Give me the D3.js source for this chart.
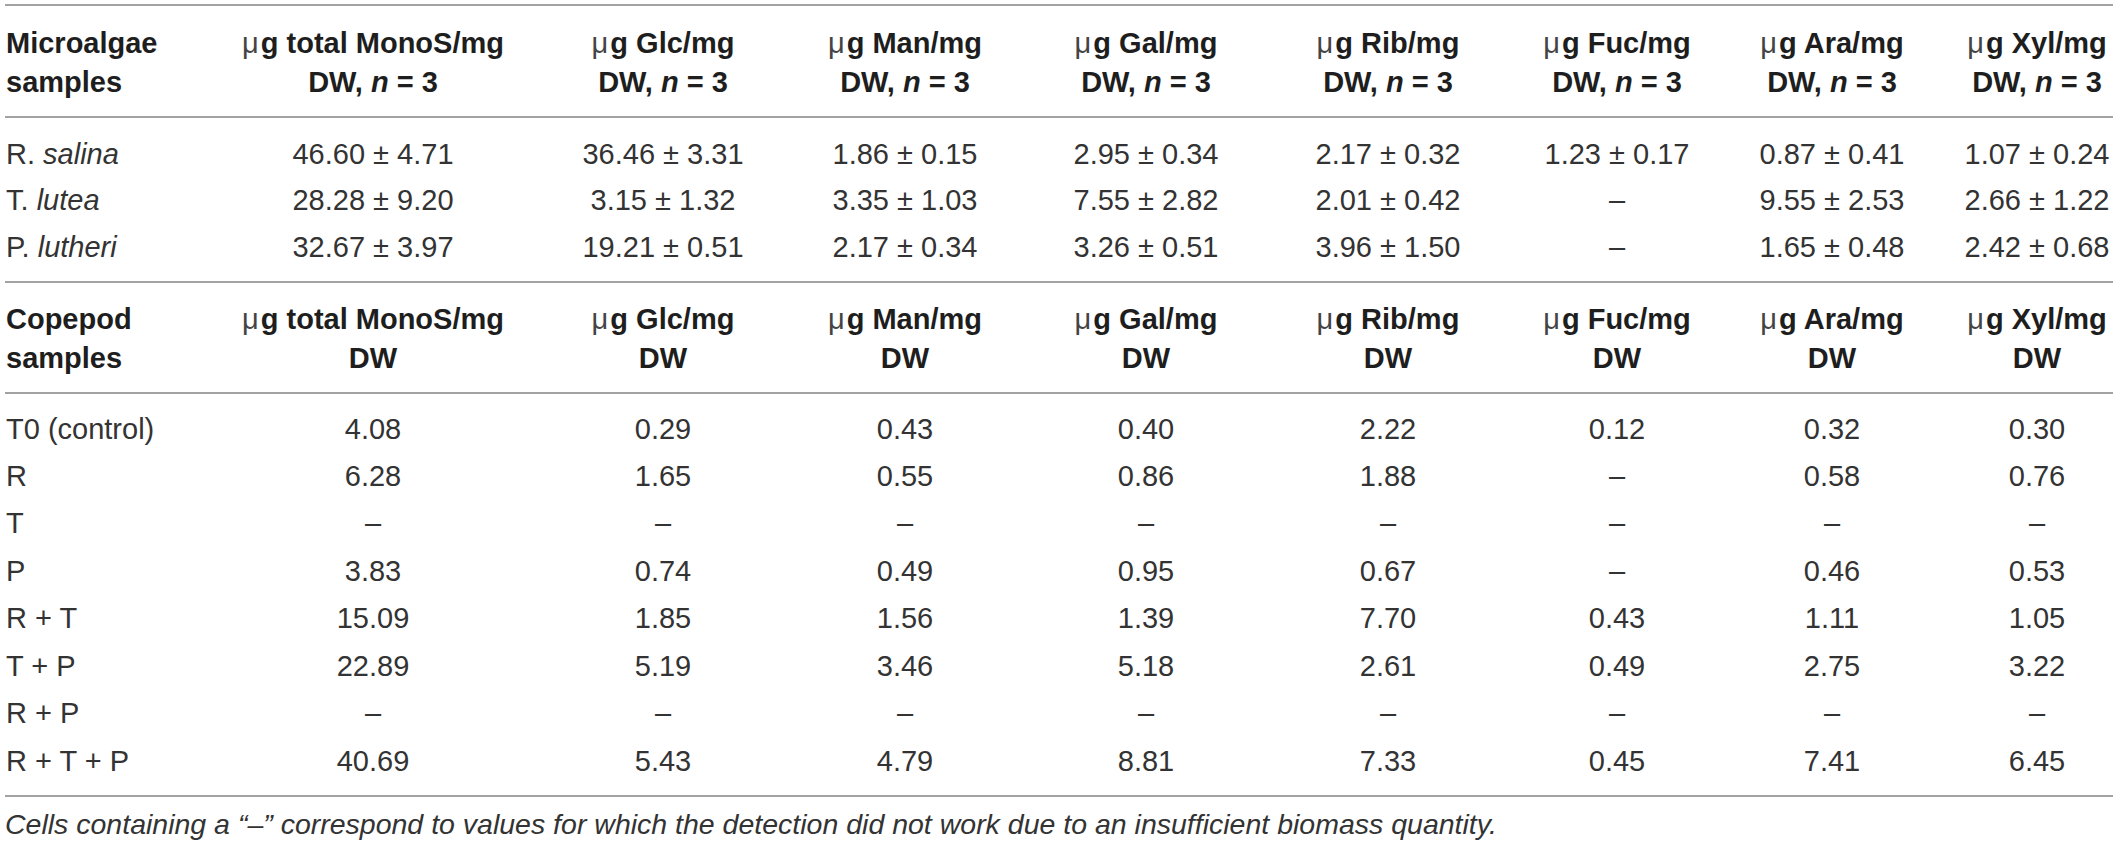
<!DOCTYPE html>
<html>
<head>
<meta charset="utf-8">
<script src="https://cdn.jsdelivr.net/npm/d3@7"></script>
<style>
  body { margin: 0; background: #fff; }
  svg text { font-family: "Liberation Sans", Arial, Helvetica, sans-serif; }
</style>
</head>
<body>
<script>
// Table data
const sugars = ["total MonoS", "Glc", "Man", "Gal", "Rib", "Fuc", "Ara", "Xyl"];

const algaeGenus = ["R.", "T.", "P."];
const algaeSpecies = ["salina", "lutea", "lutheri"];
const algaeMean = [
  [46.60, 36.46, 1.86, 2.95, 2.17, 1.23, 0.87, 1.07],
  [28.28, 3.15, 3.35, 7.55, 2.01, null, 9.55, 2.66],
  [32.67, 19.21, 2.17, 3.26, 3.96, null, 1.65, 2.42]
];
const algaeSd = [
  [4.71, 3.31, 0.15, 0.34, 0.32, 0.17, 0.41, 0.24],
  [9.20, 1.32, 1.03, 2.82, 0.42, null, 2.53, 1.22],
  [3.97, 0.51, 0.34, 0.51, 1.50, null, 0.48, 0.68]
];

const copepodSamples = ["T0 (control)", "R", "T", "P", "R + T", "T + P", "R + P", "R + T + P"];
const copepodValues = [
  [4.08, 0.29, 0.43, 0.40, 2.22, 0.12, 0.32, 0.30],
  [6.28, 1.65, 0.55, 0.86, 1.88, null, 0.58, 0.76],
  [null, null, null, null, null, null, null, null],
  [3.83, 0.74, 0.49, 0.95, 0.67, null, 0.46, 0.53],
  [15.09, 1.85, 1.56, 1.39, 7.70, 0.43, 1.11, 1.05],
  [22.89, 5.19, 3.46, 5.18, 2.61, 0.49, 2.75, 3.22],
  [null, null, null, null, null, null, null, null],
  [40.69, 5.43, 4.79, 8.81, 7.33, 0.45, 7.41, 6.45]
];

const caption = "Cells containing a \u201c\u2013\u201d correspond to values for which the detection did not work due to an insufficient biomass quantity.";

// Layout
const width = 2118, height = 844;
const fontSize = 29;
const baseShift = 10.5; // from visual row centre to baseline
const textColor = "#333333";
const ruleColor = "#a3a3a3";

const svg = d3.select("body")
  .append("svg")
  .attr("width", width)
  .attr("height", height);

// column centres
const x = d3.scaleOrdinal()
  .domain(sugars)
  .range([373, 663, 905, 1146, 1388, 1617, 1832, 2037]);
const labelX = 6;

const yAlgae = d3.scaleLinear().domain([0, algaeGenus.length - 1]).range([153, 246]);
const yCope = d3.scaleLinear().domain([0, copepodSamples.length - 1]).range([428, 760]);

const fmt = d3.format(".2f");
const dash = "\u2013";

// horizontal rules
svg.selectAll("line.rule")
  .data([5, 117, 282, 393, 796])
  .enter()
  .append("line")
  .attr("class", "rule")
  .attr("x1", 5)
  .attr("x2", 2113)
  .attr("y1", d => d)
  .attr("y2", d => d)
  .attr("stroke", ruleColor)
  .attr("stroke-width", 1.8);

// header block
function drawHeader(top, firstWord, withN) {
  const g = svg.append("g").attr("fill", "#1e1e1e").attr("font-size", fontSize);

  g.append("text")
    .attr("x", labelX).attr("y", top + baseShift)
    .attr("font-weight", "bold")
    .text(firstWord);
  g.append("text")
    .attr("x", labelX).attr("y", top + 39 + baseShift)
    .attr("font-weight", "bold")
    .text("samples");

  const h1 = g.selectAll("text.h1")
    .data(sugars)
    .enter()
    .append("text")
    .attr("class", "h1")
    .attr("x", d => x(d))
    .attr("y", top + baseShift)
    .attr("text-anchor", "middle");
  h1.append("tspan").attr("font-weight", "normal").attr("fill", "#444").text("\u03bc");
  h1.append("tspan").attr("font-weight", "bold").attr("dx", 2).text(d => `g ${d}/mg`);

  const h2 = g.selectAll("text.h2")
    .data(sugars)
    .enter()
    .append("text")
    .attr("class", "h2")
    .attr("x", d => x(d))
    .attr("y", top + 39 + baseShift)
    .attr("text-anchor", "middle")
    .attr("font-weight", "bold");
  if (withN) {
    h2.append("tspan").text("DW, ");
    h2.append("tspan").attr("font-style", "italic").text("n");
    h2.append("tspan").text(" = 3");
  } else {
    h2.text("DW");
  }
}

drawHeader(42, "Microalgae", true);
drawHeader(318, "Copepod", false);

// microalgae rows
const algaeRows = svg.append("g")
  .attr("fill", textColor)
  .attr("font-size", fontSize)
  .selectAll("g")
  .data(algaeGenus.map((gname, i) => ({ i, gname })))
  .enter()
  .append("g");

const algaeLabel = algaeRows.append("text")
  .attr("x", labelX)
  .attr("y", d => yAlgae(d.i) + baseShift);
algaeLabel.append("tspan").text(d => d.gname + " ");
algaeLabel.append("tspan").attr("font-style", "italic").text(d => algaeSpecies[d.i]);

algaeRows.selectAll("text.val")
  .data(d => sugars.map((s, j) => ({ s, m: algaeMean[d.i][j], sd: algaeSd[d.i][j], i: d.i })))
  .enter()
  .append("text")
  .attr("class", "val")
  .attr("x", d => x(d.s))
  .attr("y", d => yAlgae(d.i) + baseShift)
  .attr("text-anchor", "middle")
  .text(d => d.m == null ? dash : `${fmt(d.m)} \u00b1 ${fmt(d.sd)}`);

// copepod rows
const copeRows = svg.append("g")
  .attr("fill", textColor)
  .attr("font-size", fontSize)
  .selectAll("g")
  .data(copepodSamples.map((name, i) => ({ i, name })))
  .enter()
  .append("g");

copeRows.append("text")
  .attr("x", labelX)
  .attr("y", d => yCope(d.i) + baseShift)
  .text(d => d.name);

copeRows.selectAll("text.val")
  .data(d => sugars.map((s, j) => ({ s, v: copepodValues[d.i][j], i: d.i })))
  .enter()
  .append("text")
  .attr("class", "val")
  .attr("x", d => x(d.s))
  .attr("y", d => yCope(d.i) + baseShift)
  .attr("text-anchor", "middle")
  .text(d => d.v == null ? dash : fmt(d.v));

// footnote
svg.append("text")
  .attr("x", 5)
  .attr("y", 834)
  .attr("font-size", 28.5)
  .attr("font-style", "italic")
  .attr("fill", textColor)
  .text(caption);
</script>
</body>
</html>
